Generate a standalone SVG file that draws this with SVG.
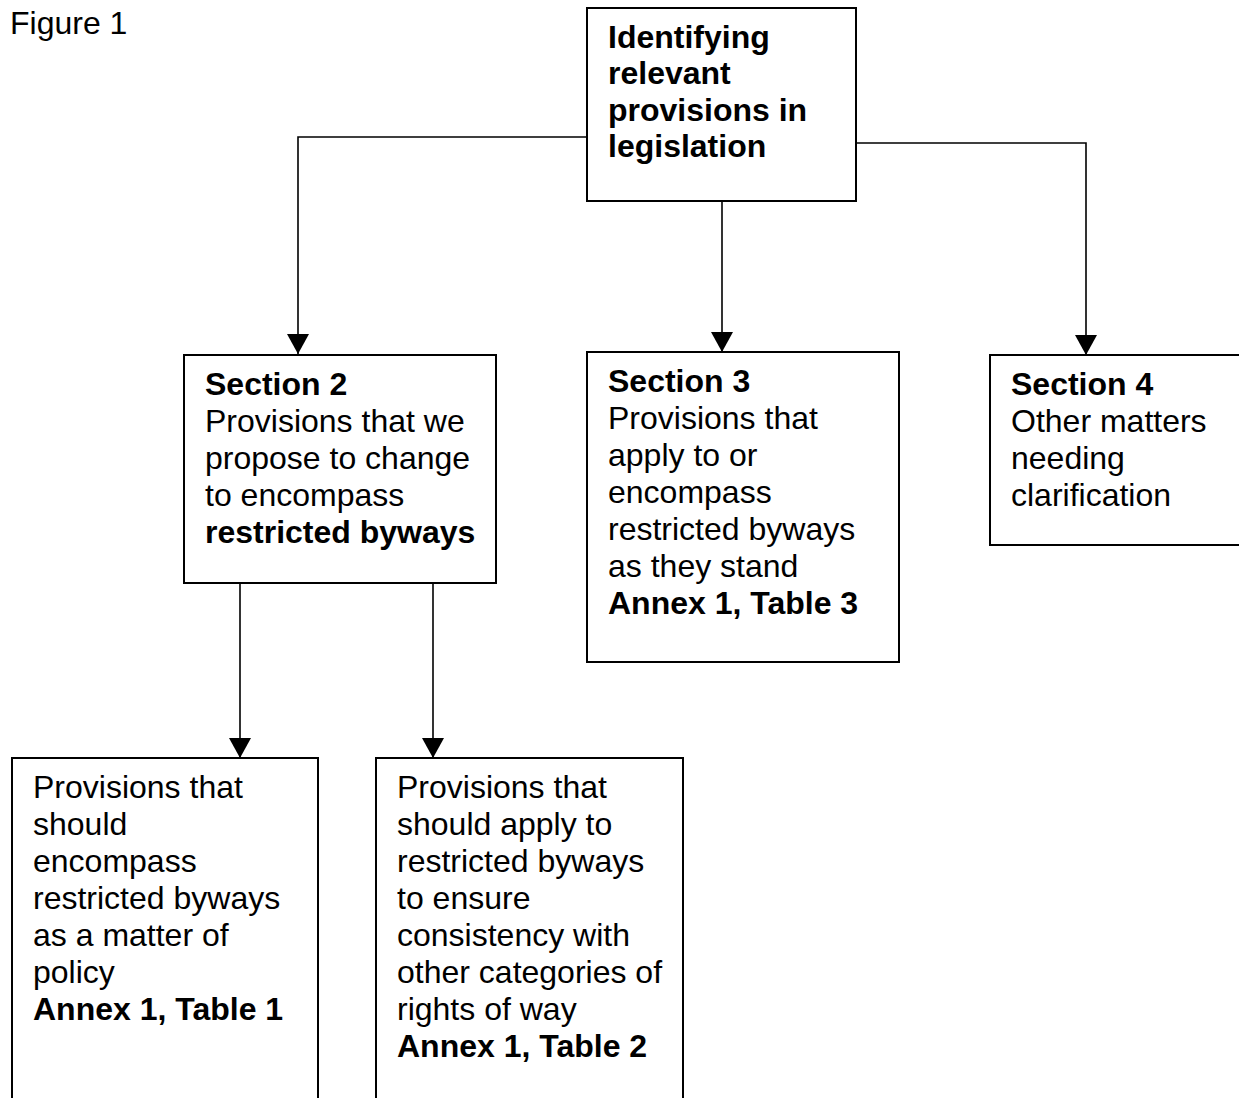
<svg xmlns="http://www.w3.org/2000/svg" width="1239" height="1098" viewBox="0 0 1239 1098">
<style>
  text { font-family: "Liberation Sans", Arial, sans-serif; font-size: 32px; fill: #000; }
  .b { font-weight: bold; }
  .box { fill: #fff; stroke: #000; stroke-width: 2; }
  .conn { fill: none; stroke: #000; stroke-width: 1.6; }
</style>
<defs>
  <marker id="arr" markerUnits="userSpaceOnUse" markerWidth="22" markerHeight="22" viewBox="0 0 22 22" refX="20" refY="11" orient="auto">
    <path d="M0,0 L20,11 L0,22 Z" fill="#000"/>
  </marker>
</defs>
<rect x="0" y="0" width="1239" height="1098" fill="#fff"/>
<text x="10" y="34">Figure 1</text>

<g id="connectors">
  <path class="conn" d="M587,137 H298 V354" marker-end="url(#arr)"/>
  <path class="conn" d="M722,201 V352" marker-end="url(#arr)"/>
  <path class="conn" d="M856,143 H1086 V355" marker-end="url(#arr)"/>
  <path class="conn" d="M240,583 V758" marker-end="url(#arr)"/>
  <path class="conn" d="M433,583 V758" marker-end="url(#arr)"/>
</g>

<g id="node-top">
  <rect class="box" x="587" y="8" width="269" height="193"/>
  <text class="b" x="608" y="48">Identifying</text>
  <text class="b" x="608" y="84">relevant</text>
  <text class="b" x="608" y="121">provisions in</text>
  <text class="b" x="608" y="157">legislation</text>
</g>

<g id="node-section2">
  <rect class="box" x="184" y="355" width="312" height="228"/>
  <text class="b" x="205" y="395">Section 2</text>
  <text x="205" y="432">Provisions that we</text>
  <text x="205" y="469">propose to change</text>
  <text x="205" y="506">to encompass</text>
  <text class="b" x="205" y="543">restricted byways</text>
</g>

<g id="node-section3">
  <rect class="box" x="587" y="352" width="312" height="310"/>
  <text class="b" x="608" y="392">Section 3</text>
  <text x="608" y="429">Provisions that</text>
  <text x="608" y="466">apply to or</text>
  <text x="608" y="503">encompass</text>
  <text x="608" y="540">restricted byways</text>
  <text x="608" y="577">as they stand</text>
  <text class="b" x="608" y="614">Annex 1, Table 3</text>
</g>

<g id="node-section4">
  <rect class="box" x="990" y="355" width="260" height="190"/>
  <text class="b" x="1011" y="395">Section 4</text>
  <text x="1011" y="432">Other matters</text>
  <text x="1011" y="469">needing</text>
  <text x="1011" y="506">clarification</text>
</g>

<g id="node-table1">
  <rect class="box" x="12" y="758" width="306" height="360"/>
  <text x="33" y="798">Provisions that</text>
  <text x="33" y="835">should</text>
  <text x="33" y="872">encompass</text>
  <text x="33" y="909">restricted byways</text>
  <text x="33" y="946">as a matter of</text>
  <text x="33" y="983">policy</text>
  <text class="b" x="33" y="1020">Annex 1, Table 1</text>
</g>

<g id="node-table2">
  <rect class="box" x="376" y="758" width="307" height="360"/>
  <text x="397" y="798">Provisions that</text>
  <text x="397" y="835">should apply to</text>
  <text x="397" y="872">restricted byways</text>
  <text x="397" y="909">to ensure</text>
  <text x="397" y="946">consistency with</text>
  <text x="397" y="983">other categories of</text>
  <text x="397" y="1020">rights of way</text>
  <text class="b" x="397" y="1057">Annex 1, Table 2</text>
</g>
</svg>
